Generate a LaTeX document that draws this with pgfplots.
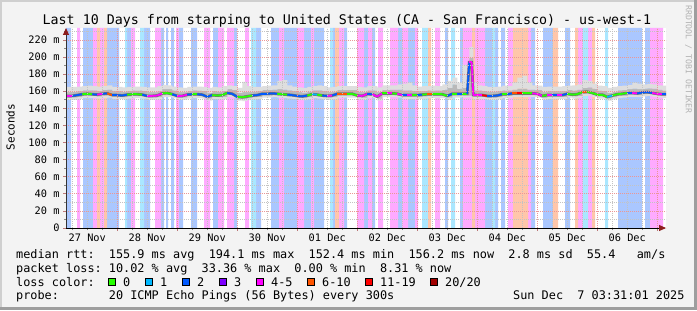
\documentclass[border=0pt]{standalone}
\usepackage{fontspec}
\usepackage{pgfplots}
\pgfplotsset{compat=1.18}
\usepackage{pgfplotstable}
\usetikzlibrary{arrows.meta}
\setmainfont{DejaVu Sans Mono}
\newfontfamily\dvm{DejaVu Sans Mono}
\frenchspacing
\definecolor{bgc}{RGB}{243,243,243}
\definecolor{frL}{RGB}{207,207,207}
\definecolor{frD}{RGB}{158,158,158}
\definecolor{mgrid}{RGB}{235,150,150}
\definecolor{ngrid}{RGB}{195,195,195}
\definecolor{arr}{RGB}{140,30,30}
\definecolor{sB}{RGB}{170,199,255}
\definecolor{sP}{RGB}{255,170,255}
\definecolor{sC}{RGB}{170,231,255}
\definecolor{sO}{RGB}{255,198,170}
\definecolor{smA}{RGB}{222,222,222}
\definecolor{smB}{RGB}{185,185,185}
\definecolor{lc0}{RGB}{38,255,0}
\definecolor{lc1}{RGB}{0,184,255}
\definecolor{lc2}{RGB}{0,89,255}
\definecolor{lc3}{RGB}{126,0,255}
\definecolor{lc4}{RGB}{255,0,255}
\definecolor{lc5}{RGB}{255,85,0}
\definecolor{lc6}{RGB}{255,0,0}
\definecolor{lc7}{RGB}{161,0,0}
\newcommand\axfont{\dvm\fontsize{10.3bp}{12bp}\selectfont}
\newcommand\lgfont{\dvm\fontsize{11.85bp}{14bp}\selectfont}

% t = hours since 27 Nov 00:00; med = median rtt (ms); c = loss class; smoke band edges (ms)
\pgfplotstableread{
t med c l2 l1 h1 h2
3.5 154.5 4 150 152.5 159 165
6 154.5 2 150 152.5 159.5 165
8 155.5 2 151 153.5 160 165.5
10 156.5 0 152 154.5 161 166
12 157 0 152 155 161 166.5
14 156.5 2 152 154.5 161 166
16 156 4 151.5 154 160.5 165.5
18 157 2 152 155 161.5 166
20 157.5 5 152.5 155.5 162 167
22 155.5 2 151 153.5 160 165
24 155.5 2 151 153.5 160 165
26 155 2 150.5 153 159.5 164.5
28 156 0 151.5 154 160.5 165
30 156.5 0 152 154.5 161 165.5
32 156.5 0 152 154.5 161 165.5
34 156 2 151.5 154 160.5 165
36 154.5 4 150 152.5 159 164.5
38 154.5 4 150 152.5 159 164.5
40 155 4 150.5 153 160 166
42 157.5 0 153 155.5 162.5 167.5
44 158 0 153.5 156 162.5 167
46 156.5 2 152 154.5 161 165.5
48 154.5 4 150 152.5 159 164.5
50 154.5 4 150 152.5 159 164
52 156 2 151.5 154 160.5 165
54 156.5 0 152 154.5 161 165.5
56 156.5 2 152 154.5 161 165.5
58 156 2 151.5 154 160.5 165
60 153.5 2 149 151.5 158.5 164
62 155.5 0 151 153.5 160 165
64 155 0 150.5 153 159.5 164.5
66 155.5 0 151 153.5 160.5 166
68 158 2 153.5 156 162.5 167
70 157 2 152.5 155 161.5 166
72 153.5 0 149 151.5 158.5 164
74 153 0 148.5 151 159 171
76 154 0 149.5 152 159 166
78 155 2 150.5 153 159.5 165
80 155.5 2 151 153.5 160 165
82 157 2 152.5 155 161.5 166
84 157 2 152.5 155 161.5 166.5
86 157.5 2 153 155.5 162 167
88 157 0 152.5 155 162.5 172
90 156.5 0 152 154.5 162 173
92 156 2 151.5 154 161 167
94 155.5 2 151 153.5 160 165.5
96 154.5 2 150 152.5 159 164.5
98 154 2 149.5 152 158.5 164
100 155 0 150.5 153 159.5 165
102 156.5 1 152 154.5 161 166
104 156 0 151.5 154 161 167
106 155 2 150.5 153 160 166
108 154.5 4 150 152.5 159 164.5
110 155 2 150.5 153 159.5 165
112 157 5 152.5 155 161.5 166
114 157 5 152.5 155 161.5 166
116 157 0 152.5 155 161.5 166
118 157 0 152.5 155 161.5 166
120 155 4 150.5 153 159.5 165
122 154.5 4 150 152.5 159 164.5
124 156.8 2 152 154.5 161 166
126 156.5 4 152 154.5 161 166
128 153.7 4 149 151.5 159 164.5
130 157.5 0 153 155.5 162 167
132 157.5 4 153 155.5 162 167
134 157.5 0 153 155.5 162 167
136 157 4 152.5 155 162 168
138 155.5 2 151 153.5 161 169
140 155.5 4 151 153.5 161 170
142 155.5 0 151 153.5 160.5 167
144 155.5 2 151 153.5 160 165.5
146 156 0 151.5 154 160.5 166
148 156.5 5 152 154.5 161 166
150 156.5 0 152 154.5 161 166.5
152 156.5 0 152 154.5 161 166
154 156.5 0 152 154.5 162 168
156 154.5 2 150 152.5 164 172
158 157 0 152.5 155 168 176
160 157 2 152.5 155 163 170
162 157 0 152.5 155 164 191
164 157 2 152.5 155 162 168
164.8 194 4 153 155 199 212
165.8 194 4 153 155 199 212
166.4 155.5 4 151 153.5 161 170
168 155.5 4 151 153.5 161 167
170 155.5 6 151 153.5 160.5 166
172 154.5 2 150 152.5 159.5 165
174 154.5 2 150 152.5 159.5 165
176 155 2 150.5 153 160 165.5
178 156.5 0 152 154.5 161 166.5
180 156.5 2 152 154.5 161 166
182 157.5 5 153 155.5 162 170
184 157.5 6 153 155.5 163 176
186 157.5 0 153 155.5 163 178
188 157.5 0 153 155.5 162 170
190 157.5 4 153 155.5 162 167
192 157 4 152.5 155 161.5 166.5
194 154.5 0 150 152.5 159 165
196 155.5 4 151 153.5 160 165.5
198 155.5 2 151 153.5 160 165.5
200 155.5 4 151 153.5 160 165.5
202 155.5 2 151 153.5 160.5 166
204 157 0 152.5 155 161.5 166.5
206 156 0 151.5 154 161 167
208 156.5 0 152 154.5 162 168
210 159 5 154.5 157 164 173
212 159.5 0 155 157.5 164.5 172
214 158 0 153.5 156 163 169
216 156 0 151.5 154 161 166.5
218 156 0 151.5 154 160.5 166
220 153.3 1 149 151.5 158.5 164
222 155 0 150.5 153 159.5 165
224 156.5 0 152 154.5 161 166
226 157 0 152.5 155 161.5 166.5
228 158 2 153.5 156 162.5 167.5
230 158 4 153.5 156 163 170
232 157.5 2 153 155.5 162.5 169
234 158.5 2 154 156.5 163 168
236 159 2 154.5 157 163.5 168.5
238 158 4 153.5 156 163 168
240 157 4 152.5 155 162 167
242 156.5 2 152 154.5 161 166.5
243.5 156.5 2 152 154.5 161 166.5
}\smoke

\begin{document}
\begin{tikzpicture}[x=1bp,y=1bp]
\useasboundingbox (0,0) rectangle (697,310);
\fill[bgc] (0,0) rectangle (697,310);
\fill[frL] (0,0) rectangle (2,310);
\fill[frL] (0,308) rectangle (697,310);
\fill[frD] (694,0) rectangle (697,310);
\fill[frD] (0,0) rectangle (697,3);

\begin{axis}[
  at={(66bp,82bp)}, anchor=south west,
  scale only axis, width=600bp, height=200bp,
  xmin=3.5, xmax=243.5, ymin=0, ymax=234,
  axis on top,
  axis background/.style={fill=white},
  axis lines=left,
  x axis line style={black, line width=0.9bp, -{Triangle[length=7bp,width=6bp,color=arr]}},
  y axis line style={black!80, line width=0.9bp, -{Triangle[length=7bp,width=6bp,color=arr]}},
  xtick={24,48,...,240},
  xticklabels={,,,,,,,,,},
  minor xtick={6,12,...,240},
  extra x ticks={12,36,...,228},
  extra x tick labels={27 Nov,28 Nov,29 Nov,30 Nov,01 Dec,02 Dec,03 Dec,04 Dec,05 Dec,06 Dec},
  extra x tick style={grid=none, major tick length=0pt},
  ytick={0,20,...,220},
  yticklabels={0,20 m,40 m,60 m,80 m,100 m,120 m,140 m,160 m,180 m,200 m,220 m},
  minor ytick={10,30,...,230},
  grid=both,
  major grid style={mgrid, line width=0.7bp, dash pattern=on 1bp off 1bp},
  minor grid style={ngrid, line width=0.7bp, dash pattern=on 1bp off 1bp},
  tick align=outside,
  major tick length=3bp, minor tick length=2bp,
  major tick style={mgrid!80!black, line width=0.7bp},
  minor tick style={ngrid!70!black, line width=0.6bp},
  x tick label style={font=\axfont, anchor=base, yshift=-13bp, text=black},
  y tick label style={font=\axfont, text=black},
  colormap={loss}{rgb255=(38,255,0) rgb255=(0,184,255) rgb255=(0,89,255) rgb255=(126,0,255) rgb255=(255,0,255) rgb255=(255,85,0) rgb255=(255,0,0) rgb255=(161,0,0)},
]
% loss background stripes
\addplot[const plot, fill=sB, draw=none] coordinates {(3.5,234)(5.5,0)(10.3,234)(14.3,0)(19.9,234)(24.7,0)(27.9,234)(29.5,0)(34.7,234)(37.1,0)(41.5,234)(42.7,0)(43.5,234)(44.3,0)(45.5,234)(46.7,0)(48.7,234)(50.3,0)(53.5,234)(55.9,0)(62.3,234)(64.3,0)(70.7,234)(71.9,0)(79.5,234)(81.5,0)(85.5,234)(88.7,0)(90.7,234)(95.9,0)(98.7,234)(101.5,0)(102.7,234)(106.7,0)(110.3,234)(111.1,0)(114.7,234)(115.9,0)(122.7,234)(124.3,0)(125.9,234)(127.1,0)(136.3,234)(137.9,0)(140.3,234)(143.1,0)(155.1,234)(156.3,0)(161.1,234)(162.3,0)(171.1,234)(173.9,0)(175.1,234)(176.3,0)(177.5,234)(179.1,0)(189.5,234)(191.1,0)(194.3,234)(198.3,0)(203.1,234)(205.1,0)(224.3,234)(233.9,0)(235.1,234)(237.1,0)} \closedcycle;
\addplot[const plot, fill=sP, draw=none] coordinates {(7.9,234)(9.1,0)(14.3,234)(15.9,0)(17.1,234)(18.7,0)(29.5,234)(31.1,0)(39.1,234)(41.5,0)(47.5,234)(48.7,0)(58.7,234)(61.1,0)(64.3,234)(66.7,0)(67.9,234)(70.7,0)(75.1,234)(76.7,0)(88.7,234)(90.7,0)(95.9,234)(98.7,0)(101.5,234)(102.7,0)(112.7,234)(114.7,0)(119.9,234)(122.7,0)(124.3,234)(125.9,0)(128.3,234)(130.3,0)(133.1,234)(136.3,0)(137.9,234)(140.3,0)(143.1,234)(144.3,0)(151.1,234)(153.1,0)(162.3,234)(165.9,0)(167.1,234)(171.1,0)(180.3,234)(182.3,0)(188.3,234)(189.5,0)(208.3,234)(210.3,0)(212.3,234)(213.9,0)(237.1,234)(242.3,0)} \closedcycle;
\addplot[const plot, fill=sC, draw=none] coordinates {(27.1,234)(27.9,0)(33.1,234)(34.7,0)(77.5,234)(79.5,0)(109.1,234)(110.3,0)(145.9,234)(148.3,0)(157.5,234)(159.1,0)(173.9,234)(175.1,0)(210.3,234)(212.3,0)(219.1,234)(220.3,0)} \closedcycle;
\addplot[const plot, fill=sO, draw=none] coordinates {(15.9,234)(17.1,0)(18.7,234)(19.9,0)(111.1,234)(112.7,0)(148.3,234)(149.5,0)(165.9,234)(167.1,0)(182.3,234)(188.3,0)(198.3,234)(200.3,0)(207.1,234)(208.3,0)(213.9,234)(215.1,0)} \closedcycle;

% smoke: stacked bands l2 -> l1 -> h1 -> h2
\addplot[draw=none, const plot, stack plots=y] table[x=t,y=l2]{\smoke};
\addplot[fill=smA, draw=none, const plot, stack plots=y] table[x=t,y expr=\thisrow{l1}-\thisrow{l2}]{\smoke} \closedcycle;
\addplot[fill=smB, draw=none, const plot, stack plots=y] table[x=t,y expr=\thisrow{h1}-\thisrow{l1}]{\smoke} \closedcycle;
\addplot[fill=smA, draw=none, const plot, stack plots=y] table[x=t,y expr=\thisrow{h2}-\thisrow{h1}]{\smoke} \closedcycle;

% median rtt coloured by loss
\addplot[color=black!55, line width=2.8bp] table[x=t,y=med]{\smoke};
\addplot[mesh, shader=flat corner, line width=1.8bp, point meta=\thisrow{c}, point meta min=0, point meta max=7, colormap access=piecewise constant] table[x=t,y=med]{\smoke};
\end{axis}

% texts
\node[font=\dvm\fontsize{13.3bp}{16bp}\selectfont, anchor=base, inner sep=0] at (347,286) {Last 10 Days from starping to United States (CA - San Francisco) - us-west-1};
\node[font=\dvm\fontsize{11bp}{13bp}\selectfont, rotate=90, inner sep=0] at (10.5,183) {Seconds};
\node[font=\dvm\fontsize{8.2bp}{10bp}\selectfont, text=black!30, rotate=-90, anchor=west, inner sep=0] at (688.5,305) {RRDTOOL / TOBI OETIKER};

\node[font=\lgfont, anchor=base west, inner sep=0] at (16,52) {median rtt:~~155.9 ms avg~~194.1 ms max~~152.4 ms min~~156.2 ms now~~2.8 ms sd~~55.4~~~am/s};
\node[font=\lgfont, anchor=base west, inner sep=0] at (16,38) {packet loss: 10.02 \% avg~~33.36 \% max~~0.00 \% min~~8.31 \% now};
\node[font=\lgfont, anchor=base west, inner sep=0] at (16,24) {loss color:};
\foreach \bx/\lx/\col/\lab in {108/123/lc0/{0}, 145/160/lc1/{1}, 182/197/lc2/{2}, 219/234/lc3/{3}, 256/271/lc4/{4-5}, 307/322/lc5/{6-10}, 365/380/lc6/{11-19}, 430/445/lc7/{20/20}}{
  \filldraw[fill=\col, draw=black, line width=0.9bp] (\bx,24.2) rectangle ++(7.5,7.5);
  \node[font=\lgfont, anchor=base west, inner sep=0] at (\lx,24) {\lab};
}
\node[font=\lgfont, anchor=base west, inner sep=0] at (16,10.5) {probe:~~~~~~~20 ICMP Echo Pings (56 Bytes) every 300s};
\node[font=\lgfont, anchor=base west, inner sep=0] at (513,10.5) {Sun Dec~~7 03:31:01 2025};
\end{tikzpicture}
\end{document}
